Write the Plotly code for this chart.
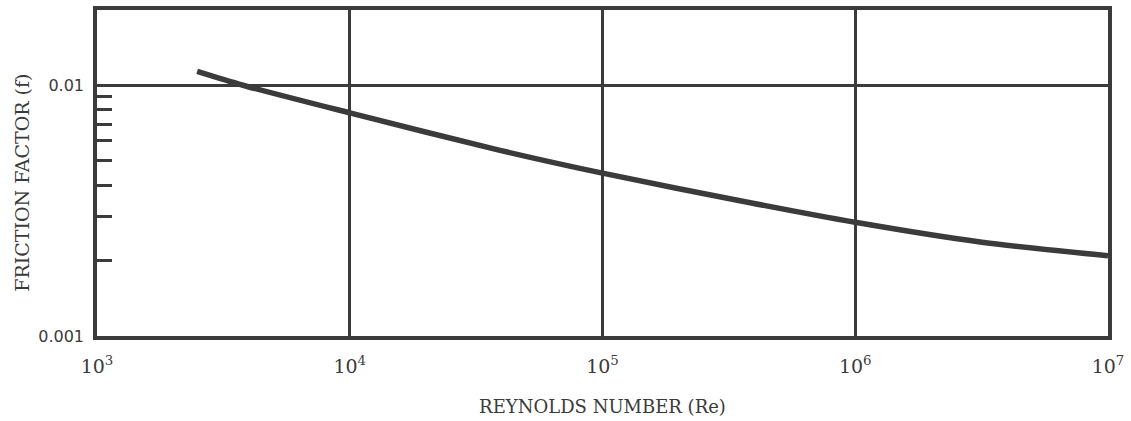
import plotly.graph_objects as go

# Friction factor vs Reynolds number (read points along the curve)
reynolds = [2490, 3780, 10000, 39300, 100000, 384000, 1000000, 3120000, 10000000]
friction = [0.01135, 0.0100, 0.00776, 0.00550, 0.00446, 0.00340, 0.00284, 0.00237, 0.00209]

x_tick_vals = [1e3, 1e4, 1e5, 1e6, 1e7]
x_tick_text = ["10<sup>3</sup>", "10<sup>4</sup>", "10<sup>5</sup>", "10<sup>6</sup>", "10<sup>7</sup>"]
y_tick_vals = [0.001, 0.01]
y_tick_text = ["0.001", "0.01"]
y_minor_vals = [0.002, 0.003, 0.004, 0.005, 0.006, 0.007, 0.008, 0.009]

ink = "#3b3b3b"
serif = "DejaVu Serif, Liberation Serif, serif"

fig = go.Figure()
fig.add_trace(go.Scatter(
    x=reynolds, y=friction, mode="lines",
    line=dict(color=ink, width=5.5, shape="spline", smoothing=0.8),
    hoverinfo="skip", showlegend=False,
))

fig.update_layout(
    width=1131, height=421,
    margin=dict(l=97, r=23, t=6, b=85),
    paper_bgcolor="white", plot_bgcolor="white",
    xaxis=dict(
        type="log", range=[3, 7],
        tickmode="array", tickvals=x_tick_vals, ticktext=x_tick_text,
        ticks="", showgrid=True, gridcolor=ink, gridwidth=3,
        showline=True, linecolor=ink, linewidth=3.5, mirror=True,
        tickfont=dict(family=serif, size=19, color=ink),
        ticklabelstandoff=10,
        title=dict(text="REYNOLDS NUMBER (Re)", standoff=26,
                   font=dict(family=serif, size=18, color=ink)),
        zeroline=False,
    ),
    yaxis=dict(
        type="log", range=[-3, -1.70],
        tickmode="array", tickvals=y_tick_vals, ticktext=y_tick_text,
        ticks="", showgrid=True, gridcolor=ink, gridwidth=3,
        showline=True, linecolor=ink, linewidth=3.5, mirror=True,
        tickfont=dict(family="DejaVu Sans, sans-serif", size=16, color=ink),
        ticklabelstandoff=6,
        minor=dict(tickmode="array", tickvals=y_minor_vals, ticks="inside",
                   ticklen=15, tickwidth=3, tickcolor=ink, showgrid=False),
        zeroline=False,
    ),
    annotations=[dict(
        text="FRICTION FACTOR (f)", textangle=-90,
        xref="paper", yref="paper", x=-0.0742, y=0.47,
        xanchor="center", yanchor="middle", showarrow=False,
        font=dict(family=serif, size=19, color=ink),
    )],
)

fig.write_html("out.html")
